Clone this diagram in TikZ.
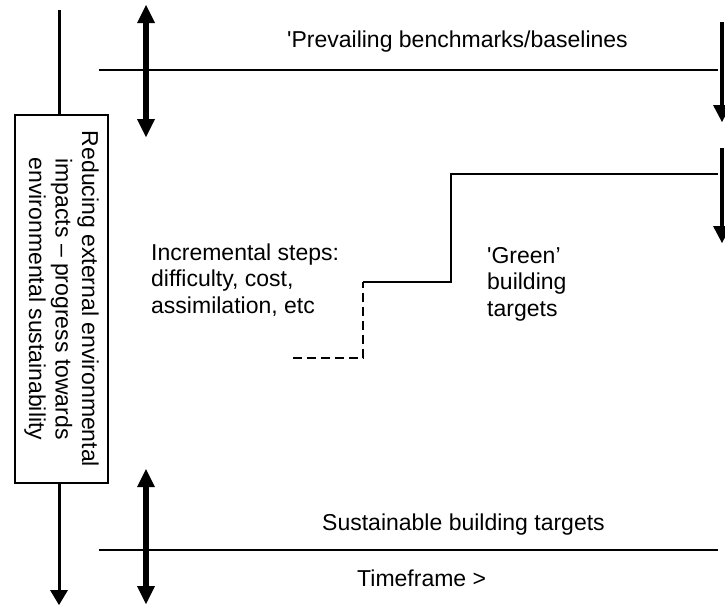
\documentclass[tikz,border=0pt]{standalone}
\usepackage{fontspec}
\setmainfont{Liberation Sans}
\usetikzlibrary{arrows.meta}

\begin{document}
\begin{tikzpicture}[x=1pt, y=-1pt,
    lbl/.style={inner sep=0pt, font=\fontsize{23}{26.5}\selectfont, align=left},
    dbl/.style={line width=6pt, {Triangle[width=18pt, length=18pt, line width=0pt]}-{Triangle[width=18pt, length=18pt, line width=0pt]}},
    down/.style={line width=4pt, -{Triangle[width=18pt, length=17pt, line width=0pt]}}]
    \useasboundingbox (0,0) rectangle (725,606);
    % left box and its axis
    \node[draw, line width=2.5pt, rotate=-90, minimum width=368pt, minimum height=93pt, inner sep=0pt, align=center, font=\fontsize{23}{26.5}\selectfont] (impact) at (61.5,299) {Reducing external environmental\\impacts -- progress towards\\environmental sustainability};
    \coordinate (axistop) at (59,10);
    \coordinate (axisend) at (59,605);
    \draw[line width=3pt] (axistop) -- (axistop |- impact.west);
    \draw[line width=3pt, -{Triangle[width=18pt, length=15pt, line width=0pt]}] (axisend |- impact.east) -- (axisend);
    % double arrows
    \coordinate (uptop) at (146,5);
    \coordinate (upbot) at (146,137);
    \coordinate (lowtop) at (146,469);
    \coordinate (lowbot) at (146,604);
    \draw[dbl] (uptop) -- (upbot);
    \draw[dbl] (lowtop) -- (lowbot);
    % baselines
    \coordinate (prevL) at (99,70);
    \coordinate (prevR) at (718,70);
    \coordinate (sustL) at (99,550);
    \coordinate (sustR) at (718,550);
    \draw[line width=2pt] (prevL) -- (prevR);
    \draw[line width=2pt] (sustL) -- (sustR);
    % right arrows
    \coordinate (r1top) at (722,22);
    \coordinate (r1bot) at (722,122);
    \coordinate (r2top) at (722,148);
    \coordinate (r2bot) at (722,243);
    \draw[down] (r1top) -- (r1bot);
    \draw[down] (r2top) -- (r2bot);
    % steps
    \coordinate (s0) at (293,358);
    \coordinate (s1) at (363,358);
    \coordinate (s2) at (363,282);
    \coordinate (s3) at (451,282);
    \coordinate (s4) at (451,174);
    \coordinate (s5) at (718,174);
    \draw[line width=2.5pt, dash pattern=on 9pt off 5pt] (s0) -- (s1) -- (s2);
    \draw[line width=2.5pt] (s2) -- (s3) -- (s4) -- (s5);
    % labels
    \node[lbl, anchor=base west] (prevail) at (287,47) {\textquotesingle Prevailing benchmarks/baselines};
    \node[lbl, anchor=base west] (incr) at (151,313) {Incremental steps:\\difficulty, cost,\\assimilation, etc};
    \node[lbl, anchor=base west] (green) at (487,316) {\textquotesingle Green'\\building\\targets};
    \node[lbl, anchor=base west] (sust) at (322,530) {Sustainable building targets};
    \node[lbl, anchor=base west] (time) at (357,586) {Timeframe >};
\end{tikzpicture}
\end{document}
